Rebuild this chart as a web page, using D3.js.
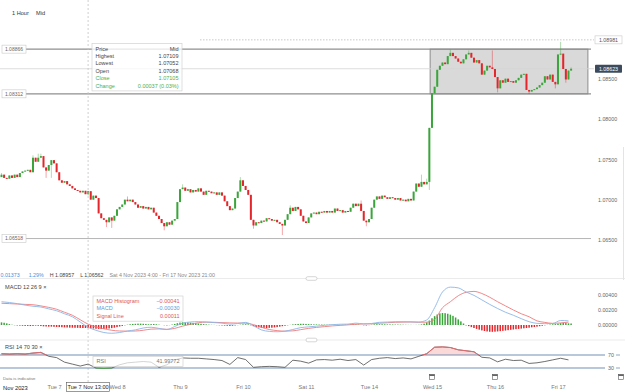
<!DOCTYPE html>
<html>
<head>
<meta charset="utf-8">
<script src="https://cdn.jsdelivr.net/npm/d3@7"></script>
<style>
body{margin:0;background:#fff;}
svg{display:block;font-family:"Liberation Sans",Arial,sans-serif;}
</style>
</head>
<body>
<svg id="chart" width="625" height="392"></svg>
<script>
// EUR/USD hourly candles, Mon 6 Nov 04:00 -> Fri 17 Nov 21:00
var firstOpen = 1.0728;
var closes = [1.0731,1.0727,1.0726,1.0730,1.0727,1.0731,1.0728,1.0733,1.0735,1.0736,
  1.0737,1.0734,1.0752,1.0747,1.0752,1.0754,1.0740,1.0736,1.0743,1.0749,
  1.0745,1.0734,1.0724,1.0721,1.0723,1.0719,1.0717,1.0714,1.0712,1.0711,
  1.0709,1.0711,1.07068,1.07105,1.0700,1.0705,1.0702,1.0683,1.0677,1.0675,
  1.0672,1.0678,1.0674,1.0680,1.0688,1.0691,1.0694,1.0700,1.0698,1.0700,
  1.0697,1.0694,1.0690,1.0692,1.0689,1.0691,1.0688,1.0690,1.0684,1.0680,
  1.0676,1.0671,1.0667,1.0672,1.0669,1.0674,1.0676,1.0697,1.0713,1.0715,
  1.0711,1.0713,1.0709,1.0712,1.0710,1.0714,1.0710,1.0706,1.0711,1.0710,
  1.0708,1.0709,1.0706,1.0709,1.0705,1.0698,1.0692,1.0687,1.0689,1.0702,
  1.0710,1.0724,1.0717,1.0712,1.0706,1.0675,1.0668,1.0672,1.0671,1.0674,
  1.0673,1.0677,1.0676,1.0674,1.0675,1.0672,1.0670,1.0668,1.0675,1.0682,
  1.0690,1.0686,1.0691,1.0688,1.0680,1.0673,1.0671,1.0678,1.0683,1.0684,
  1.0682,1.0685,1.0684,1.0686,1.0684,1.0686,1.0684,1.0689,1.0686,1.0687,
  1.0684,1.0686,1.0685,1.0690,1.0695,1.0692,1.0695,1.0686,1.0674,1.0672,
  1.0676,1.0690,1.0700,1.0704,1.0701,1.0705,1.0703,1.0701,1.0703,1.0702,
  1.0700,1.0702,1.0699,1.0700,1.0698,1.0701,1.0699,1.0710,1.0720,1.0716,
  1.0722,1.0719,1.0722,1.0789,1.0832,1.0840,1.0861,1.0866,1.0870,1.0868,
  1.0878,1.0882,1.0878,1.0875,1.0871,1.0869,1.0874,1.0880,1.0882,1.0876,
  1.0870,1.0873,1.0869,1.0855,1.0860,1.0866,1.0864,1.0862,1.0852,1.0838,
  1.0848,1.0845,1.0850,1.0846,1.0847,1.0845,1.0848,1.0851,1.0855,1.0856,
  1.0836,1.0834,1.0836,1.0837,1.0839,1.0842,1.0845,1.0853,1.0849,1.0855,
  1.0846,1.0843,1.0880,1.0881,1.0862,1.0849,1.0860,1.08623];
// wicks that stick out of the bodies: [candle, price]
var wickHighs = [[0,1.0733],[12,1.0755],[14,1.0757],[15,1.0757],[33,1.07109],[48,1.0704],
  [69,1.0719],[91,1.0728],[110,1.0693],[137,1.0699],[160,1.0731],[162,1.0726],
  [171,1.0886],[178,1.0885],[187,1.0885],[213,1.08957],[217,1.0864]];
var wickLows = [[17,1.0727],[19,1.0727],[33,1.07052],[40,1.0666],[42,1.0665],[62,1.0662],
  [96,1.0664],[107,1.06562],[139,1.0667],[163,1.0712],[189,1.0833],[201,1.0831],
  [211,1.0838],[215,1.0845]];

var priceTicks = [1.065, 1.07, 1.075, 1.08, 1.085];
var levels = [1.08866, 1.08312, 1.06518];
var rangeBox = {from: 163.3, to: 223.4, low: 1.08312, high: 1.08866};
var lastPrice = 1.08623, cursorPrice = 1.08981, cursorCandle = 33;

var dayTicks = [["Tue 7",20],["Wed 8",44],["Thu 9",68],["Fri 10",92],["Sat 11",116],
  ["Tue 14",140],["Wed 15",164],["Thu 16",188],["Fri 17",212]];
var calendarMarks = [164, 188, 236];

// MACD 12 26 9, one value every 3 candles (x1e-5)
var macdStep = 3;
var macdLine = [310,300,285,265,250,240,215,190,150,110,40,-30,-70,-100,-110,-100,-80,-65,-40,-30,
  -45,-60,-20,25,40,45,40,32,25,12,20,35,-10,-65,-85,-90,-82,-60,-35,-25,
  -15,-5,5,10,12,25,15,20,36,40,44,44,42,40,67,230,440,505,495,440,
  395,335,275,220,170,130,85,44,22,18,20,60,55];
var signalLine = [290,285,280,275,270,255,235,210,170,130,70,11,-25,-50,-70,-80,-82,-80,-70,-55,
  -52,-58,-45,-15,10,30,38,36,32,28,26,24,5,-30,-60,-75,-82,-78,-62,-45,
  -32,-22,-12,-5,2,10,14,16,24,30,36,38,40,36,38,75,230,310,390,436,
  448,420,370,310,255,200,150,110,55,35,22,28,38];
// histogram, one bar per candle (x1e-5)
var macdHist = [35,30,22,12,4,-3,-6,-8,-10,-12,-12,-14,-12,-8,-10,-14,-18,-20,-22,-22,
  -24,-26,-28,-30,-32,-33,-35,-36,-37,-38,-39,-40,-40,-41,-44,-47,-50,-52,-54,-53,
  -50,-46,-42,-36,-28,-20,-12,-4,4,10,14,16,18,18,16,14,10,12,14,10,
  5,0,-3,-5,-2,6,14,24,32,36,36,34,32,28,24,20,16,12,8,5,
  3,2,-2,-4,-6,-8,-10,-12,-10,-6,-2,4,8,10,8,-4,-16,-26,-32,-36,
  -38,-40,-38,-36,-32,-28,-22,-16,-10,-4,2,8,12,14,16,16,14,12,10,8,
  8,6,6,5,4,4,3,2,2,2,2,3,4,6,8,8,6,0,-4,-6,
  -2,4,8,10,10,10,9,8,8,7,6,6,5,4,3,2,2,1,2,3,
  8,18,35,60,90,118,140,155,160,158,150,138,122,100,75,48,20,-5,-15,-28,
  -40,-52,-62,-72,-80,-86,-90,-91,-89,-86,-82,-78,-74,-69,-64,-60,-56,-52,-48,-44,
  -40,-36,-31,-27,-22,-16,-10,-4,2,6,9,12,18,25,28,26,22,20];
var macdUnit = 1e-5;
var macdTicks = [0, 0.002, 0.004];

// RSI 14, one value every 3 candles
var rsiValues = [74,73,74,73,76,78,66,62,48,42,36,42,30,29,30,40,46,48,50,48,
  32,40,55,61,60,60,58,56,53,41,62,56,32,34,35,34,32,54,51,45,
  55,56,54,57,53,56,39,56,60,62,59,61,58,66,74,94,95,93,86,83,
  80,63,61,49,57,53,54,44,46,50,55,60,55];
var rsiCursor = 41.99772;

var green = "#3ba53b", red = "#e3262b";
var fmt5 = d3.format(".5f");
var svg = d3.select("#chart");

// scales
var x = d3.scaleLinear().domain([0, closes.length - 1]).range([1.5, 571.1]);
var y = d3.scaleLinear().domain([1.065, 1.08]).range([240, 119]);
var yMacd = d3.scaleLinear().domain([0, 0.004]).range([325, 295]);
var yRsi = d3.scaleLinear().domain([30, 70]).range([368, 355]);

var candles = closes.map(function(c, i) {
  var o = i === 0 ? firstOpen : closes[i - 1];
  return {i: i, o: o, c: c, h: Math.max(o, c), l: Math.min(o, c)};
});
wickHighs.forEach(function(d) { candles[d[0]].h = d[1]; });
wickLows.forEach(function(d) { candles[d[0]].l = d[1]; });

svg.append("rect").attr("width", 625).attr("height", 392).attr("fill", "#fff");

// header
svg.append("text").attr("x", 12).attr("y", 15).attr("font-size", 5.6).attr("fill", "#333").text("1 Hour");
svg.append("text").attr("x", 36).attr("y", 15).attr("font-size", 5.6).attr("fill", "#333").text("Mid");

// ---- main pane ----
var main = svg.append("g");

main.append("rect")
  .attr("x", x(rangeBox.from)).attr("y", y(rangeBox.high))
  .attr("width", x(rangeBox.to) - x(rangeBox.from))
  .attr("height", y(rangeBox.low) - y(rangeBox.high))
  .attr("fill", "#d9d9d9").attr("stroke", "#8c8c8c").attr("stroke-width", 1);

main.append("line").attr("x1", 0).attr("x2", 594)
  .attr("y1", y(lastPrice)).attr("y2", y(lastPrice))
  .attr("stroke", "#d4d4d4").attr("stroke-width", 0.8);

main.append("line").attr("x1", 200).attr("x2", 594)
  .attr("y1", y(cursorPrice)).attr("y2", y(cursorPrice))
  .attr("stroke", "#bbb").attr("stroke-width", 0.8).attr("stroke-dasharray", "1.5,1.5");

levels.forEach(function(v, k) {
  main.append("line").attr("x1", 26).attr("x2", 591)
    .attr("y1", y(v)).attr("y2", y(v))
    .attr("stroke", k < 2 ? "#8f8f8f" : "#b5b5b5").attr("stroke-width", k < 2 ? 1.3 : 1);
  main.append("rect").attr("x", 2).attr("y", y(v) - 4).attr("width", 24).attr("height", 8)
    .attr("fill", "#fff").attr("stroke", "#c8c8c8").attr("stroke-width", 0.6);
  main.append("text").attr("x", 14).attr("y", y(v) + 1.8).attr("text-anchor", "middle")
    .attr("font-size", 5).attr("fill", "#666").text(fmt5(v));
});

// candles
var cg = main.append("g");
cg.selectAll(".wick").data(candles).join("line")
  .attr("x1", function(d) { return x(d.i); }).attr("x2", function(d) { return x(d.i); })
  .attr("y1", function(d) { return y(d.h); }).attr("y2", function(d) { return y(d.l); })
  .attr("stroke", function(d) { return d.c >= d.o ? green : red; })
  .attr("stroke-opacity", 0.45).attr("stroke-width", 0.9);
cg.selectAll(".body").data(candles).join("rect")
  .attr("x", function(d) { return x(d.i) - 1; }).attr("width", 2)
  .attr("y", function(d) { return y(Math.max(d.o, d.c)); })
  .attr("height", function(d) { return Math.max(1, Math.abs(y(d.o) - y(d.c))); })
  .attr("fill", function(d) { return d.c >= d.o ? green : red; });

// price axis
var pAxis = svg.append("g").attr("transform", "translate(596,0)")
  .call(d3.axisRight(y).tickValues(priceTicks).tickSize(0).tickPadding(2).tickFormat(fmt5));
pAxis.select(".domain").remove();
pAxis.selectAll("text").attr("font-size", 5.3).attr("fill", "#666").attr("font-family", null);

svg.append("rect").attr("x", 595).attr("y", y(lastPrice) - 4).attr("width", 27).attr("height", 8)
  .attr("fill", "#3d4b5e").attr("rx", 0.8);
svg.append("text").attr("x", 608.5).attr("y", y(lastPrice) + 1.9).attr("text-anchor", "middle")
  .attr("font-size", 5.3).attr("fill", "#fff").text(fmt5(lastPrice));
svg.append("rect").attr("x", 595).attr("y", y(cursorPrice) - 4).attr("width", 27).attr("height", 8)
  .attr("fill", "#fff").attr("stroke", "#c8c8c8").attr("stroke-width", 0.6);
svg.append("text").attr("x", 608.5).attr("y", y(cursorPrice) + 1.9).attr("text-anchor", "middle")
  .attr("font-size", 5.3).attr("fill", "#555").text(fmt5(cursorPrice));
svg.append("line").attr("x1", 623.5).attr("x2", 623.5).attr("y1", 147).attr("y2", 280)
  .attr("stroke", "#dfe5ec").attr("stroke-width", 1);

// crosshair
var cx = x(cursorCandle);
svg.append("line").attr("x1", cx).attr("x2", cx).attr("y1", 0).attr("y2", 382)
  .attr("stroke", "#c4c4c4").attr("stroke-width", 0.8).attr("stroke-dasharray", "2,2");

// tooltip box for the hovered candle
function tooltip(x0, y0, w, rows) {
  var g = svg.append("g");
  g.append("rect").attr("x", x0).attr("y", y0).attr("width", w).attr("height", rows.length * 7.4 + 3)
    .attr("fill", "#fff").attr("fill-opacity", 0.78).attr("stroke", "#d2d2d2").attr("stroke-width", 0.7);
  rows.forEach(function(r, k) {
    var ty = y0 + 7 + k * 7.4;
    g.append("text").attr("x", x0 + 3.5).attr("y", ty).attr("font-size", 5.5).attr("fill", r[2]).text(r[0]);
    g.append("text").attr("x", x0 + w - 3.5).attr("y", ty).attr("text-anchor", "end")
      .attr("font-size", 5.5).attr("fill", r[2]).text(r[1]);
  });
}
var hc = candles[cursorCandle];
var chg = hc.c - hc.o;
tooltip(92, 43.5, 90, [
  ["Price", "Mid", "#444"],
  ["Highest", fmt5(hc.h), "#444"],
  ["Lowest", fmt5(hc.l), "#444"],
  ["Open", fmt5(hc.o), "#444"],
  ["Close", fmt5(hc.c), "#4caf50"],
  ["Change", fmt5(chg) + " (" + d3.format(".2%")(chg / hc.o) + ")", "#4caf50"]
]);

// summary row
var info = svg.append("text").attr("x", 0.5).attr("y", 276.5).attr("font-size", 5.3);
info.append("tspan").attr("fill", "#4a90d9").text("0.01373");
info.append("tspan").attr("dx", 9).attr("fill", "#4a90d9").text("1.29%");
info.append("tspan").attr("dx", 6).attr("fill", "#444").text("H " + fmt5(d3.max(candles, function(d) { return d.h; })));
info.append("tspan").attr("dx", 6).attr("fill", "#444").text("L " + fmt5(d3.min(candles, function(d) { return d.l; })));
info.append("tspan").attr("dx", 6).attr("fill", "#888").text("Sat 4 Nov 2023 4:00 - Fri 17 Nov 2023 21:00");

// pane separators and handles
[278.5, 340].forEach(function(py) {
  svg.append("line").attr("x1", 0).attr("x2", 625).attr("y1", py).attr("y2", py)
    .attr("stroke", "#e6e6e6").attr("stroke-width", 0.8);
  svg.append("rect").attr("x", 306).attr("y", py - 1.8).attr("width", 11).attr("height", 3.6).attr("rx", 1.8)
    .attr("fill", "#fff").attr("stroke", "#bbb").attr("stroke-width", 0.6);
});

// ---- MACD pane ----
svg.append("text").attr("x", 5).attr("y", 288.5).attr("font-size", 5.6).attr("fill", "#444")
  .text("MACD  12  26  9  \u00d7");
svg.append("g").selectAll("rect").data(macdHist).join("rect")
  .attr("x", function(d, i) { return x(i) - 0.75; }).attr("width", 1.5)
  .attr("y", function(d) { return Math.min(yMacd(0), yMacd(d * macdUnit)); })
  .attr("height", function(d) { return Math.abs(yMacd(d * macdUnit) - yMacd(0)); })
  .attr("fill", function(d) { return d >= 0 ? green : red; });
var macdPath = d3.line()
  .x(function(d, k) { return x(k * macdStep); })
  .y(function(d) { return yMacd(d * macdUnit); })
  .curve(d3.curveMonotoneX);
svg.append("path").attr("d", macdPath(signalLine)).attr("fill", "none")
  .attr("stroke", "#ef7a7c").attr("stroke-width", 0.9);
svg.append("path").attr("d", macdPath(macdLine)).attr("fill", "none")
  .attr("stroke", "#8cb6e6").attr("stroke-width", 0.9);
var mAxis = svg.append("g").attr("transform", "translate(596,0)")
  .call(d3.axisRight(yMacd).tickValues(macdTicks).tickSize(0).tickPadding(2).tickFormat(fmt5));
mAxis.select(".domain").remove();
mAxis.selectAll("text").attr("font-size", 5.3).attr("fill", "#666").attr("font-family", null);

var mk = Math.round(cursorCandle / macdStep);
var mHist = macdHist[cursorCandle] * macdUnit;
tooltip(93, 296, 90, [
  ["MACD Histogram", fmt5(mHist), "#e0555a"],
  ["MACD", fmt5(macdLine[mk] * macdUnit), "#5d9ad8"],
  ["Signal Line", fmt5(signalLine[mk] * macdUnit), "#e0555a"]
]);

// ---- RSI pane ----
svg.append("text").attr("x", 5).attr("y", 349).attr("font-size", 5.6).attr("fill", "#444")
  .text("RSI  14  70  30  \u00d7");
var rsiLine = d3.line()
  .x(function(d, k) { return x(k * macdStep); })
  .y(function(d) { return yRsi(d); });
var defs = svg.append("defs");
defs.append("clipPath").attr("id", "ob").append("rect").attr("x", 0).attr("y", 330).attr("width", 600).attr("height", yRsi(70) - 330);
defs.append("clipPath").attr("id", "os").append("rect").attr("x", 0).attr("y", yRsi(30)).attr("width", 600).attr("height", 20);
svg.append("path").attr("d", d3.area().x(function(d, k) { return x(k * macdStep); })
    .y0(yRsi(70)).y1(function(d) { return yRsi(d); })(rsiValues))
  .attr("clip-path", "url(#ob)").attr("fill", "#fbd9d9");
svg.append("path").attr("d", d3.area().x(function(d, k) { return x(k * macdStep); })
    .y0(yRsi(30)).y1(function(d) { return yRsi(d); })(rsiValues))
  .attr("clip-path", "url(#os)").attr("fill", "#cfeccf");
[70, 30].forEach(function(v) {
  svg.append("line").attr("x1", 0).attr("x2", 605).attr("y1", yRsi(v)).attr("y2", yRsi(v))
    .attr("stroke", "#7290b4").attr("stroke-width", 1.1);
  svg.append("line").attr("x1", 616).attr("x2", 620).attr("y1", yRsi(v)).attr("y2", yRsi(v))
    .attr("stroke", "#7290b4").attr("stroke-width", 0.8);
  svg.append("text").attr("x", 611).attr("y", yRsi(v) + 1.8).attr("text-anchor", "middle")
    .attr("font-size", 5.3).attr("fill", "#666").text(v);
});
svg.append("path").attr("d", rsiLine(rsiValues)).attr("fill", "none")
  .attr("stroke", "#4a4a4a").attr("stroke-width", 0.8);
svg.append("path").attr("d", rsiLine(rsiValues)).attr("fill", "none").attr("clip-path", "url(#ob)")
  .attr("stroke", "#ec6b6e").attr("stroke-width", 0.9);
svg.append("path").attr("d", rsiLine(rsiValues)).attr("fill", "none").attr("clip-path", "url(#os)")
  .attr("stroke", "#49b049").attr("stroke-width", 0.9);
svg.append("g").call(function(g) {
  g.append("rect").attr("x", 93).attr("y", 356.5).attr("width", 90).attr("height", 10)
    .attr("fill", "#fff").attr("fill-opacity", 0.7).attr("stroke", "#d2d2d2").attr("stroke-width", 0.7);
  g.append("text").attr("x", 96.5).attr("y", 363.3).attr("font-size", 5.5).attr("fill", "#777").text("RSI");
  g.append("text").attr("x", 179.5).attr("y", 363.3).attr("text-anchor", "end")
    .attr("font-size", 5.5).attr("fill", "#777").text(d3.format(".5f")(rsiCursor));
});

// ---- time axis ----
svg.append("text").attr("x", 3).attr("y", 379.5).attr("font-size", 4.3).attr("fill", "#777").text("Data is indicative");
var tAxis = svg.append("g").attr("transform", "translate(0,381)")
  .call(d3.axisBottom(x).tickValues(dayTicks.map(function(d) { return d[1]; })).tickSize(0).tickPadding(4)
    .tickFormat(function(v) { return dayTicks.find(function(d) { return d[1] === v; })[0]; }));
tAxis.select(".domain").remove();
tAxis.selectAll("text").attr("font-size", 5.6).attr("fill", "#777").attr("font-family", null);
svg.append("text").attr("x", 3).attr("y", 389.5).attr("font-size", 5.8).attr("fill", "#222").text("Nov 2023");
svg.append("rect").attr("x", cx - 21.5).attr("y", 382.5).attr("width", 43).attr("height", 9)
  .attr("fill", "#fff").attr("stroke", "#555").attr("stroke-width", 0.6);
svg.append("text").attr("x", cx).attr("y", 389.2).attr("text-anchor", "middle")
  .attr("font-size", 5.6).attr("fill", "#222").text("Tue 7 Nov 13:00");

calendarMarks.forEach(function(i) {
  var g = svg.append("g").attr("transform", "translate(" + (x(i) - 2.6) + ",374.5)");
  g.append("rect").attr("width", 5.2).attr("height", 5).attr("fill", "#fff").attr("stroke", "#555").attr("stroke-width", 0.6);
  g.append("rect").attr("width", 5.2).attr("height", 1.4).attr("fill", "#555");
});
</script>
</body>
</html>
